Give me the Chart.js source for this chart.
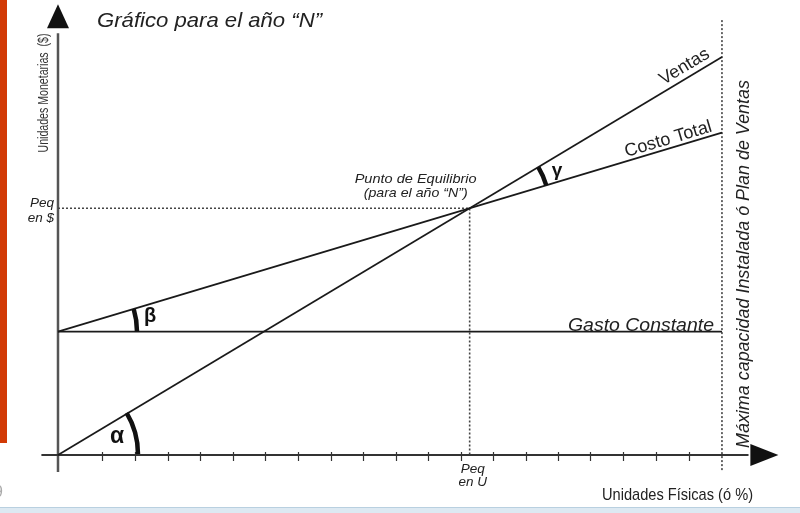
<!DOCTYPE html>
<html>
<head>
<meta charset="utf-8">
<script src="https://cdn.jsdelivr.net/npm/chart.js@4.4.1/dist/chart.umd.min.js"></script>
<style>
html,body{margin:0;padding:0;background:#fff;}
#wrap{position:relative;width:800px;height:513px;}
</style>
</head>
<body>
<div id="wrap"><canvas id="c"></canvas></div>
<script>
// ---- Data (units: x = Unidades Físicas %, y = Unidades Monetarias) ----
const unitsX = [0, 100];
const ventas = [0, 100];
const costoTotal = [31, 81];
const gastoConstante = [31, 31];
const breakEvenX = 62;
const breakEvenY = 62;
const capacityX = 100;
const xTicks = [6.6, 11.6, 16.6, 21.4, 26.4, 31.2, 36.1, 41.1, 45.9, 50.9, 55.7, 60.7, 65.5, 70.5, 75.3, 80.2, 85.1, 90.1, 95.0];
const lineLabels = ['Ventas', 'Costo Total', 'Gasto Constante'];
const titleText = 'Gráfico para el año “N”';
const yAxisTitle = 'Unidades Monetarias  ($)';
const xAxisTitle = 'Unidades Físicas (ó %)';
const capacityLabel = 'Máxima capacidad Instalada ó Plan de Ventas';
const peqLabelsY = ['Peq', 'en $'];
const peqLabelsX = ['Peq', 'en U'];
const beLabels = ['Punto de Equilibrio', '(para el año “N”)'];
const angleLabels = ['α', 'β', 'γ'];

const FONT = '"Liberation Sans", Arial, "DejaVu Sans", sans-serif';
const pts = (xs, ys) => xs.map((x, i) => ({x: x, y: ys[i]}));

function txt(ctx, s, x, y, o) {
  o = o || {};
  ctx.save();
  ctx.translate(x, y);
  if (o.rot) ctx.rotate(o.rot);
  ctx.font = (o.italic ? 'italic ' : '') + (o.weight || 'normal') + ' ' + o.size + 'px ' + FONT;
  ctx.fillStyle = o.color || '#222';
  ctx.textBaseline = o.baseline || 'alphabetic';
  ctx.textAlign = 'left';
  const m = ctx.measureText(s).width;
  const sx = o.w ? o.w / m : 1;
  ctx.scale(sx, 1);
  const off = o.align === 'center' ? -m / 2 : (o.align === 'right' ? -m : 0);
  ctx.fillText(s, off, 0);
  ctx.restore();
}

const decor = {
  id: 'decor',
  beforeDraw(chart) {
    const ctx = chart.ctx;
    ctx.save();
    ctx.fillStyle = '#fff';
    ctx.fillRect(0, 0, chart.width, chart.height);
    // orange side bar
    ctx.fillStyle = '#d23a05';
    ctx.fillRect(0, 0, 7, 443);
    // bottom band
    ctx.fillStyle = '#dde9f2';
    ctx.fillRect(0, 508, chart.width, 5);
    ctx.fillStyle = '#b9d0e0';
    ctx.fillRect(0, 507, chart.width, 1);
    // clipped gray glyph at left
    txt(ctx, '9', -6, 497, {size: 16, color: '#aaa'});
    ctx.restore();
  },
  beforeDatasetsDraw(chart) {
    const ctx = chart.ctx, xs = chart.scales.x, ys = chart.scales.y;
    const x0 = xs.getPixelForValue(0), y0 = ys.getPixelForValue(0);
    ctx.save();
    // y axis
    ctx.strokeStyle = '#555';
    ctx.lineWidth = 2.5;
    ctx.beginPath();
    ctx.moveTo(x0, ys.getPixelForValue(ys.min));
    ctx.lineTo(x0, ys.getPixelForValue(106));
    ctx.stroke();
    // x axis
    ctx.strokeStyle = '#333';
    ctx.lineWidth = 2;
    ctx.beginPath();
    ctx.moveTo(xs.getPixelForValue(xs.min), y0);
    ctx.lineTo(xs.getPixelForValue(104), y0);
    ctx.stroke();
    // ticks
    ctx.lineWidth = 1.2;
    ctx.strokeStyle = '#333';
    xTicks.forEach(t => {
      const px = Math.round(xs.getPixelForValue(t)) + 0.5;
      ctx.beginPath();
      ctx.moveTo(px, y0 - 3);
      ctx.lineTo(px, y0 + 6);
      ctx.stroke();
    });
    // arrow heads
    ctx.fillStyle = '#111';
    const yt = ys.getPixelForValue(ys.max);
    ctx.beginPath();
    ctx.moveTo(x0, yt - 1);
    ctx.lineTo(x0 - 11, yt + 23);
    ctx.lineTo(x0 + 11, yt + 23);
    ctx.closePath();
    ctx.fill();
    const xt = xs.getPixelForValue(xs.max);
    ctx.beginPath();
    ctx.moveTo(xt, y0);
    ctx.lineTo(xt - 28, y0 - 11);
    ctx.lineTo(xt - 28, y0 + 11);
    ctx.closePath();
    ctx.fill();
    ctx.restore();
  },
  afterDatasetsDraw(chart) {
    const ctx = chart.ctx, xs = chart.scales.x, ys = chart.scales.y;
    const P = (x, y) => [xs.getPixelForValue(x), ys.getPixelForValue(y)];
    const [ox, oy] = P(0, 0);
    const [vx1, vy1] = P(unitsX[1], ventas[1]);
    const [cx0, cy0] = P(unitsX[0], costoTotal[0]);
    const [cx1, cy1] = P(unitsX[1], costoTotal[1]);
    const [bx, by] = P(breakEvenX, breakEvenY);
    const angV = Math.atan2(vy1 - oy, vx1 - ox);
    const angC = Math.atan2(cy1 - cy0, cx1 - cx0);

    ctx.save();
    // angle arcs
    ctx.strokeStyle = '#111';
    ctx.lineWidth = 4.5;
    ctx.beginPath(); ctx.arc(ox, oy - 1, 80, angV, 0); ctx.stroke();
    ctx.beginPath(); ctx.arc(cx0, cy0, 79, angC, 0); ctx.stroke();
    ctx.beginPath(); ctx.arc(bx, by, 80, angV, angC); ctx.stroke();

    // angle letters
    txt(ctx, angleLabels[0], 117, 437, {size: 23, weight: 'bold', align: 'center', baseline: 'middle', color: '#111'});
    txt(ctx, angleLabels[1], 150, 316, {size: 20, weight: 'bold', align: 'center', baseline: 'middle', color: '#111'});
    txt(ctx, angleLabels[2], 557, 171, {size: 19, weight: 'bold', align: 'center', baseline: 'middle', color: '#111'});

    // title
    txt(ctx, titleText, 97, 27, {size: 21, italic: true, w: 225, color: '#222'});
    // y axis title
    txt(ctx, yAxisTitle, 48, 93, {size: 14, rot: -Math.PI / 2, align: 'center', w: 119, color: '#333'});
    // x axis title
    txt(ctx, xAxisTitle, 602, 500, {size: 17, w: 151, color: '#222'});
    // capacity label
    const capX = xs.getPixelForValue(capacityX);
    txt(ctx, capacityLabel, capX + 27, 264, {size: 18, italic: true, rot: -Math.PI / 2, align: 'center', w: 368, color: '#222'});

    // Peq labels
    txt(ctx, peqLabelsY[0], ox - 4, by - 1, {size: 13.5, italic: true, align: 'right', color: '#222'});
    txt(ctx, peqLabelsY[1], ox - 4, by + 14, {size: 13.5, italic: true, align: 'right', color: '#222'});
    txt(ctx, peqLabelsX[0], bx + 3, oy + 18, {size: 13.5, italic: true, align: 'center', color: '#222'});
    txt(ctx, peqLabelsX[1], bx + 3, oy + 31, {size: 13.5, italic: true, align: 'center', color: '#222'});

    // break-even label
    txt(ctx, beLabels[0], bx - 54, by - 25, {size: 13, italic: true, align: 'center', w: 122, color: '#222'});
    txt(ctx, beLabels[1], bx - 54, by - 11, {size: 13, italic: true, align: 'center', w: 104, color: '#222'});

    // line labels
    const vxData = 95.2;
    const [vlx, vly] = P(vxData, ventas[0] + (ventas[1] - ventas[0]) * vxData / 100);
    ctx.save(); ctx.translate(vlx, vly); ctx.rotate(angV);
    txt(ctx, lineLabels[0], 0, -6, {size: 18, align: 'center', color: '#222'});
    ctx.restore();
    const cxData = 92.3;
    const [clx, cly] = P(cxData, costoTotal[0] + (costoTotal[1] - costoTotal[0]) * cxData / 100);
    ctx.save(); ctx.translate(clx, cly); ctx.rotate(angC);
    txt(ctx, lineLabels[1], 0, -4, {size: 18, align: 'center', color: '#222'});
    ctx.restore();
    const [glx, gly] = P(87.8, gastoConstante[0]);
    txt(ctx, lineLabels[2], glx, gly - 1, {size: 19, italic: true, align: 'center', w: 146, color: '#222'});
    ctx.restore();
  }
};

const black = '#1a1a1a';
const chart = new Chart(document.getElementById('c'), {
  type: 'scatter',
  data: {
    datasets: [
      {label: 'Ventas', data: pts(unitsX, ventas), showLine: true, borderColor: black, borderWidth: 1.7, pointRadius: 0},
      {label: 'Costo Total', data: pts(unitsX, costoTotal), showLine: true, borderColor: black, borderWidth: 1.7, pointRadius: 0},
      {label: 'Gasto Constante', data: pts(unitsX, gastoConstante), showLine: true, borderColor: black, borderWidth: 1.7, pointRadius: 0},
      {label: 'Peq', data: [{x: 0, y: breakEvenY}, {x: breakEvenX, y: breakEvenY}, {x: breakEvenX, y: 0}], showLine: true, borderColor: '#444', borderWidth: 1.6, borderDash: [2, 2], pointRadius: 0},
      {label: 'Capacidad', data: [{x: capacityX, y: -3.8}, {x: capacityX, y: 109.8}], showLine: true, borderColor: '#444', borderWidth: 1.6, borderDash: [2, 2], pointRadius: 0}
    ]
  },
  options: {
    responsive: true,
    maintainAspectRatio: false,
    animation: false,
    devicePixelRatio: 1,
    layout: {padding: {left: 41.4, right: 21.6, top: 5.3, bottom: 40.9}},
    scales: {
      x: {type: 'linear', min: -2.5, max: 108.5, display: false},
      y: {type: 'linear', min: -4.3, max: 113, display: false}
    },
    plugins: {legend: {display: false}, tooltip: {enabled: false}, title: {display: false}},
    events: []
  },
  plugins: [decor]
});
</script>
</body>
</html>
